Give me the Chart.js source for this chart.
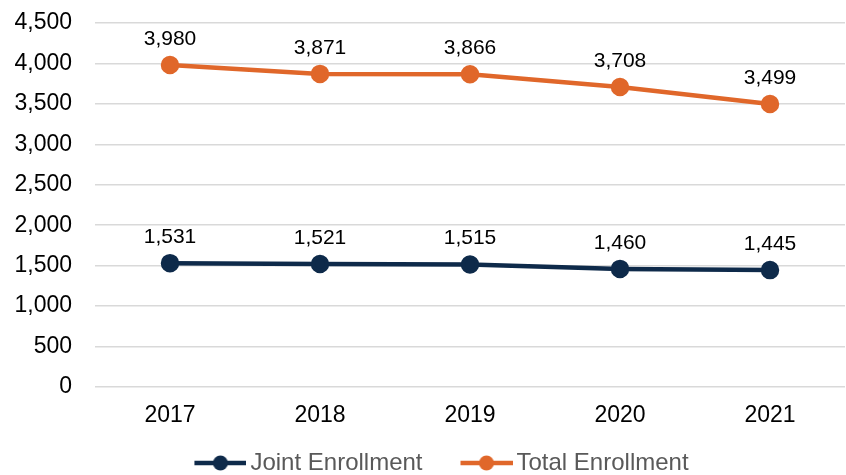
<!DOCTYPE html>
<html lang="en">
  <head>
    <meta charset="UTF-8" />
    <title>Enrollment</title>
    <script src="https://cdn.jsdelivr.net/npm/chart.js"></script>
    <style>
      body {
        margin: 0;
        padding: 0;
        background: #fff;
        overflow: hidden;
      }
      .wrap {
        width: 846px;
        height: 475px;
        position: relative;
      }
      canvas {
        display: block;
      }
    </style>
  </head>
  <body>
    <div class="wrap"><canvas id="chart"></canvas></div>

    <script>
      const years = ["2017", "2018", "2019", "2020", "2021"];
      const jointEnrollment = [1531, 1521, 1515, 1460, 1445];
      const totalEnrollment = [3980, 3871, 3866, 3708, 3499];

      const navy = "#0E2A4A";
      const orange = "#E0672A";
      const fontFamily = "'Liberation Sans', Arial, sans-serif";

      // legend marker: short line with a dot, left side left empty for spacing
      function legendMarker(color) {
        const c = document.createElement("canvas");
        c.width = 98;
        c.height = 18;
        const ctx = c.getContext("2d");
        ctx.strokeStyle = color;
        ctx.lineWidth = 4.5;
        ctx.beginPath();
        ctx.moveTo(46, 9);
        ctx.lineTo(98, 9);
        ctx.stroke();
        ctx.fillStyle = color;
        ctx.beginPath();
        ctx.arc(72, 9, 7.5, 0, Math.PI * 2);
        ctx.fill();
        return c;
      }

      // value labels above each point
      const valueLabels = {
        id: "valueLabels",
        afterDatasetsDraw(chart) {
          const ctx = chart.ctx;
          ctx.save();
          ctx.font = "21px " + fontFamily;
          ctx.fillStyle = "#000";
          ctx.textAlign = "center";
          ctx.textBaseline = "alphabetic";
          chart.data.datasets.forEach((ds, i) => {
            chart.getDatasetMeta(i).data.forEach((pt, j) => {
              ctx.fillText(ds.data[j].toLocaleString("en-US"), pt.x, pt.y - 20);
            });
          });
          ctx.restore();
        },
      };

      new Chart(document.getElementById("chart"), {
        type: "line",
        data: {
          labels: years,
          datasets: [
            {
              label: "Joint Enrollment",
              data: jointEnrollment,
              borderColor: navy,
              backgroundColor: navy,
              borderWidth: 4.5,
              pointRadius: 7,
              pointHoverRadius: 7,
              tension: 0,
            },
            {
              label: "Total Enrollment",
              data: totalEnrollment,
              borderColor: orange,
              backgroundColor: orange,
              borderWidth: 4.5,
              pointRadius: 7,
              pointHoverRadius: 7,
              tension: 0,
            },
          ],
        },
        options: {
          responsive: true,
          maintainAspectRatio: false,
          animation: false,
          layout: {
            autoPadding: false,
            padding: { top: 23, right: 1, left: 0, bottom: -10 },
          },
          plugins: {
            tooltip: { enabled: false },
            legend: {
              position: "bottom",
              labels: {
                usePointStyle: true,
                pointStyleWidth: 82,
                color: "#595959",
                font: { family: fontFamily, size: 24, lineHeight: 1 },
                padding: 0,
                generateLabels(chart) {
                  return chart.data.datasets.map((ds, i) => ({
                    text: ds.label,
                    fillStyle: ds.borderColor,
                    strokeStyle: ds.borderColor,
                    pointStyle: legendMarker(ds.borderColor),
                    fontColor: "#595959",
                    datasetIndex: i,
                    hidden: false,
                    lineWidth: 0,
                  }));
                },
              },
            },
          },
          scales: {
            x: {
              offset: true,
              grid: { display: false },
              border: { display: false },
              ticks: {
                color: "#000",
                font: { family: fontFamily, size: 23 },
                padding: 7,
              },
              afterFit(scale) {
                scale.height = 64;
                scale.paddingLeft = 0;
                scale.paddingRight = 0;
              },
            },
            y: {
              min: 0,
              max: 4500,
              grid: { color: "#D9D9D9", lineWidth: 1.5, drawTicks: false },
              border: { display: false },
              ticks: {
                stepSize: 500,
                color: "#000",
                padding: 23,
                font: { family: fontFamily, size: 23 },
                callback: (v) => v.toLocaleString("en-US"),
              },
              afterFit(scale) {
                scale.width = 95;
                scale.paddingTop = 0;
                scale.paddingBottom = 0;
              },
            },
          },
        },
        plugins: [valueLabels],
      });
    </script>
  </body>
</html>
